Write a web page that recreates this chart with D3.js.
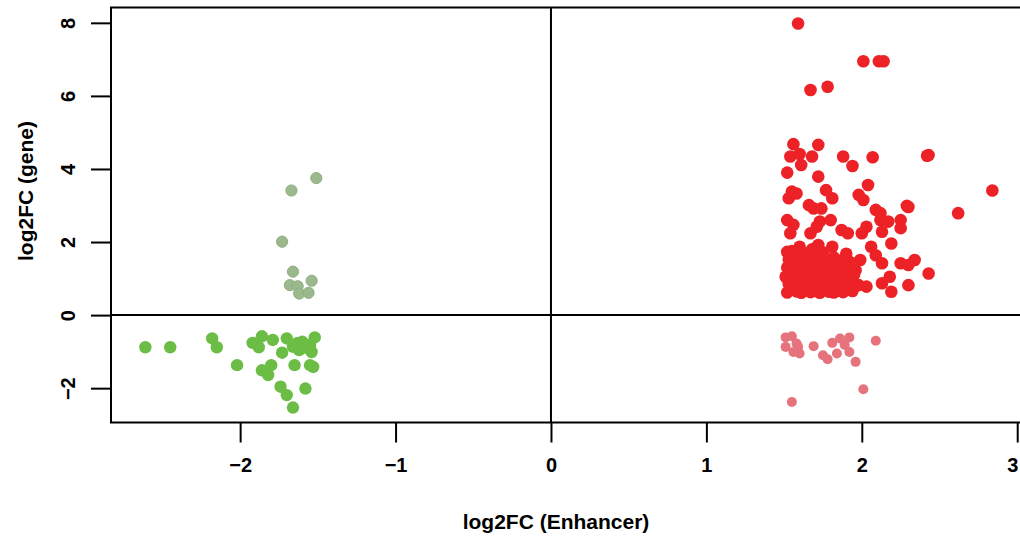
<!DOCTYPE html>
<html>
<head>
<meta charset="utf-8">
<script src="https://cdn.jsdelivr.net/npm/d3@7"></script>
<style>
  html, body { margin: 0; padding: 0; background: #fff; }
  svg { display: block; }
  text { font-family: "Liberation Sans", Arial, sans-serif; font-weight: bold; fill: #000; }
</style>
</head>
<body>
<div id="chart"></div>
<script>
// ---- Data (log2FC enhancer, log2FC gene) ----
const upUp = [ // red: enhancer up, gene up
  [1.59,7.98],[2.01,6.95],[2.11,6.95],[2.14,6.95],[1.67,6.16],[1.78,6.25],
  [1.56,4.68],[1.72,4.66],[1.54,4.34],[1.60,4.41],[1.68,4.34],[1.61,4.11],[1.88,4.34],[2.07,4.32],
  [1.94,4.08],[2.42,4.36],[2.43,4.38],[1.52,3.90],[1.72,3.79],[2.04,3.56],[2.84,3.41],[1.55,3.38],
  [1.58,3.33],[1.53,3.20],[1.77,3.42],[1.81,3.20],[1.98,3.29],[2.01,3.15],[2.29,2.99],[2.30,2.96],
  [1.66,3.01],[1.69,2.92],[1.74,2.92],[2.62,2.79],[2.09,2.88],[2.12,2.79],[1.52,2.60],[1.56,2.47],
  [1.54,2.24],[1.73,2.56],[1.80,2.60],[1.71,2.42],[1.67,2.24],[1.87,2.33],[1.91,2.24],[2.03,2.42],
  [2.00,2.24],[2.12,2.60],[2.17,2.56],[2.25,2.60],[2.25,2.38],[2.13,2.28],[2.19,1.96],[2.06,1.87],
  [1.81,1.87],[1.72,1.92],[1.60,1.87],[1.52,1.73],[2.09,1.64],[2.13,1.42],[2.25,1.42],[2.30,1.37],
  [2.34,1.51],[2.43,1.14],[2.30,0.82],[1.99,1.51],[1.92,1.46],[2.03,0.78],[2.13,0.87],[2.18,1.05],
  [2.19,0.64],[1.96,1.23],[1.98,0.82],
  [1.52,0.62],[1.55,0.70],[1.58,0.65],[1.61,0.61],[1.64,0.68],[1.67,0.63],[1.70,0.66],[1.73,0.61],
  [1.76,0.69],[1.79,0.64],[1.82,0.62],[1.85,0.67],[1.88,0.63],[1.91,0.70],[1.94,0.66],
  [1.53,0.85],[1.56,0.92],[1.59,0.80],[1.62,0.88],[1.65,0.95],[1.68,0.83],[1.71,0.90],[1.74,0.86],
  [1.77,0.93],[1.80,0.81],[1.83,0.89],[1.86,0.84],[1.90,0.91],[1.93,0.79],
  [1.51,1.05],[1.54,1.12],[1.57,1.02],[1.60,1.15],[1.63,1.08],[1.66,1.18],[1.69,1.03],[1.72,1.11],
  [1.75,1.06],[1.78,1.16],[1.81,1.01],[1.84,1.09],[1.87,1.14],[1.90,1.04],[1.95,1.10],
  [1.52,1.30],[1.55,1.25],[1.58,1.38],[1.61,1.28],[1.64,1.34],[1.67,1.24],[1.70,1.40],[1.73,1.31],
  [1.76,1.27],[1.79,1.36],[1.82,1.29],[1.85,1.33],[1.88,1.41],[1.92,1.26],
  [1.53,1.52],[1.56,1.60],[1.60,1.48],[1.63,1.57],[1.66,1.50],[1.70,1.62],[1.74,1.54],[1.78,1.47],
  [1.82,1.58],[1.87,1.50],[1.55,1.75],[1.62,1.70],[1.68,1.80],[1.75,1.72],[1.90,1.68]
];
const upDown = [ // pink: enhancer up, gene down
  [1.51,-0.61],[1.55,-0.58],[1.51,-0.87],[1.58,-0.78],[1.56,-1.01],[1.60,-1.05],[1.59,-0.87],
  [1.69,-0.85],[1.81,-0.76],[1.86,-0.64],[1.92,-0.61],[1.89,-0.82],[1.92,-1.01],[1.75,-1.10],
  [1.78,-1.21],[1.84,-1.05],[1.96,-1.28],[2.09,-0.70],[2.01,-2.03],[1.55,-2.38]
];
const downUp = [ // grey-green: enhancer down, gene up
  [-1.51,3.75],[-1.67,3.41],[-1.73,2.01],[-1.66,1.19],[-1.68,0.82],[-1.63,0.79],
  [-1.62,0.59],[-1.56,0.61],[-1.54,0.94]
];
const downDown = [ // green: enhancer down, gene down
  [-2.61,-0.88],[-2.45,-0.88],[-2.18,-0.64],[-2.15,-0.88],[-2.02,-1.37],[-1.92,-0.76],
  [-1.88,-0.88],[-1.86,-0.58],[-1.79,-0.68],[-1.70,-0.64],[-1.73,-1.03],[-1.66,-0.87],
  [-1.60,-0.73],[-1.62,-0.96],[-1.55,-0.82],[-1.52,-0.61],[-1.54,-1.01],[-1.86,-1.51],
  [-1.82,-1.64],[-1.80,-1.37],[-1.65,-1.37],[-1.55,-1.37],[-1.53,-1.42],[-1.74,-1.96],
  [-1.70,-2.19],[-1.58,-2.01],[-1.66,-2.53],[-1.58,-0.80],[-1.63,-0.76],[-1.57,-0.90]
];
const xTicks = [-2, -1, 0, 1, 2, 3];
const yTicks = [-2, 0, 2, 4, 6, 8];
const xTitle = "log2FC (Enhancer)";
const yTitle = "log2FC (gene)";

// ---- Layout ----
const W = 1020, H = 538;
const pLeft = 111, pRight = 1027, pTop = 7.5, pBottom = 422.5;

const svg = d3.select("#chart").append("svg").attr("width", W).attr("height", H);

const x = d3.scaleLinear().domain([-2.831, 3.063]).range([pLeft, pRight]);
const y = d3.scaleLinear().domain([-2.94, 8.42]).range([pBottom, pTop]);

const fmt = d => (d < 0 ? "\u2212" + Math.abs(d) : String(d));

// axes
const xAxis = d3.axisBottom(x).tickValues(xTicks).tickSize(20).tickFormat(fmt);
const gx = svg.append("g").attr("transform", `translate(0,${pBottom})`).call(xAxis);
gx.select(".domain").remove();
gx.selectAll(".tick line").attr("stroke", "#000").attr("stroke-width", 2);
gx.selectAll(".tick text").attr("font-size", 20).attr("y", 42).attr("dy", "0.36em")
  .attr("x", (d, i, n) => (i === n.length - 1 ? -5 : 0));

const yAxis = d3.axisLeft(y).tickValues(yTicks).tickSize(20).tickFormat(fmt);
const gy = svg.append("g").attr("transform", `translate(${pLeft},0)`).call(yAxis);
gy.select(".domain").remove();
gy.selectAll(".tick line").attr("stroke", "#000").attr("stroke-width", 2);
gy.selectAll(".tick text")
  .attr("font-size", 20)
  .attr("x", null).attr("dy", null)
  .attr("text-anchor", "middle")
  .attr("transform", "translate(-36,0) rotate(-90)")
  .attr("y", 0);

// points
function drawSet(data, color, r, stroke) {
  svg.append("g").selectAll("circle").data(data).join("circle")
    .attr("cx", d => x(d[0])).attr("cy", d => y(d[1]))
    .attr("r", r).attr("fill", color)
    .attr("stroke", stroke || "none").attr("stroke-width", stroke ? 1 : 0);
}
drawSet(downUp, "#9bb98c", 5.6, "#8fae80");
drawSet(downDown, "#6cbd45", 6.2);
drawSet(upDown, "#e6737c", 5);
drawSet(upUp, "#ec2227", 6.3);

// zero lines
svg.append("line").attr("x1", x(0)).attr("x2", x(0)).attr("y1", pTop).attr("y2", pBottom)
  .attr("stroke", "#000").attr("stroke-width", 2);
svg.append("line").attr("x1", pLeft).attr("x2", pRight).attr("y1", y(0)).attr("y2", y(0))
  .attr("stroke", "#000").attr("stroke-width", 2);

// frame
svg.append("rect").attr("x", pLeft).attr("y", pTop).attr("width", pRight - pLeft).attr("height", pBottom - pTop)
  .attr("fill", "none").attr("stroke", "#000").attr("stroke-width", 2);

// titles
svg.append("text").attr("x", 556).attr("y", 529).attr("text-anchor", "middle")
  .attr("font-size", 21).text(xTitle);
svg.append("text").attr("transform", "translate(33,191) rotate(-90)").attr("text-anchor", "middle")
  .attr("font-size", 21).text(yTitle);
</script>
</body>
</html>
